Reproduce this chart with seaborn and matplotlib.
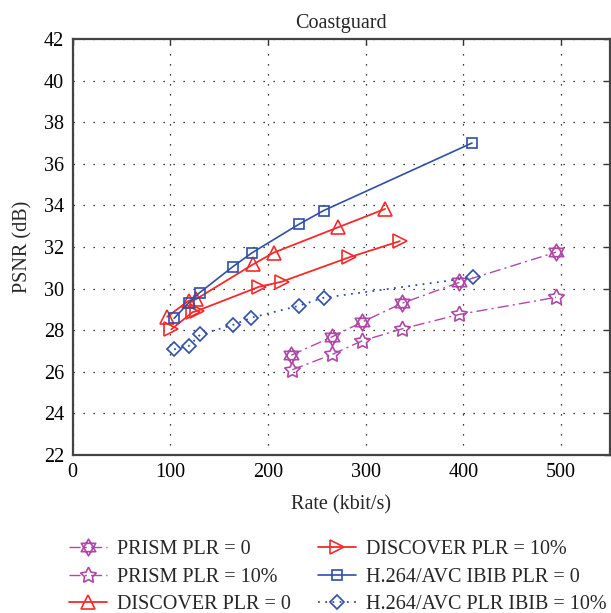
import numpy as np
import pandas as pd
import matplotlib
matplotlib.use("Agg")
import matplotlib.pyplot as plt
from matplotlib.path import Path
import seaborn as sns

# ---- data ----
prism0_x = [224, 266, 296, 337, 396, 495]
prism0_y = [26.8, 27.69, 28.38, 29.29, 30.3, 31.75]
prism10_x = [225, 266, 296, 337, 396, 495]
prism10_y = [26.1, 26.84, 27.48, 28.06, 28.76, 29.58]
disc0_x = [97, 119, 126, 185, 206, 272, 320]
disc0_y = [28.65, 29.42, 29.48, 31.17, 31.73, 32.95, 33.83]
disc10_x = [101, 123, 127, 191, 214, 283, 335]
disc10_y = [28.04, 28.87, 28.92, 30.09, 30.33, 31.5, 32.28]
h264_x = [104, 119, 130, 164, 184, 232, 257, 409]
h264_y = [28.57, 29.32, 29.8, 31.05, 31.73, 33.1, 33.75, 37.0]
h264_10_x = [104, 119, 131, 164, 183, 232, 257, 410]
h264_10_y = [27.08, 27.24, 27.8, 28.25, 28.6, 29.18, 29.56, 30.54]

labels = ["PRISM PLR = 0", "PRISM PLR = 10%", "DISCOVER PLR = 0",
          "DISCOVER PLR = 10%", "H.264/AVC IBIB PLR = 0", "H.264/AVC PLR IBIB = 10%"]
xticks = [0, 100, 200, 300, 400, 500]
yticks = list(range(22, 43, 2))

sns.set_theme(style="white")
plt.rcParams['font.family'] = ['Liberation Serif', 'DejaVu Serif']

# hexagram marker
t1 = [(0, 1), (np.cos(np.radians(210)), np.sin(np.radians(210))),
      (np.cos(np.radians(330)), np.sin(np.radians(330))), (0, 1)]
t2 = [(0, -1), (np.cos(np.radians(30)), np.sin(np.radians(30))),
      (np.cos(np.radians(150)), np.sin(np.radians(150))), (0, -1)]
hexagram = Path(t1 + t2, [Path.MOVETO, Path.LINETO, Path.LINETO, Path.CLOSEPOLY,
                          Path.MOVETO, Path.LINETO, Path.LINETO, Path.CLOSEPOLY])

magenta = "#b048a8"
red = "#f52a2a"
blue = "#2f4fa8"
FS = 14.5

fig = plt.figure(figsize=(6.11, 6.13), dpi=100)
ax = fig.add_axes([0.1187, 0.2577, 0.8793, 0.6787])

series = [
    (prism0_x, prism0_y, labels[0], magenta, (0, (8, 3, 1.5, 3)), hexagram, 12, 1.0),
    (prism10_x, prism10_y, labels[1], magenta, (0, (8, 3, 1.5, 3)), (5, 1, 0), 12, 1.0),
    (disc0_x, disc0_y, labels[2], red, "-", "^", 10, 1.3),
    (disc10_x, disc10_y, labels[3], red, "-", ">", 10, 1.3),
    (h264_x, h264_y, labels[4], blue, "-", "s", 7, 1.2),
    (h264_10_x, h264_10_y, labels[5], blue, (0, (1, 3)), "D", 7, 1.3),
]

for xs, ys, lab, col, ls, mk, ms, lw in series:
    df = pd.DataFrame({"x": xs, "y": ys})
    sns.lineplot(data=df, x="x", y="y", ax=ax, color=col, linestyle=ls, lw=lw,
                 marker=mk, markersize=ms, markerfacecolor="none",
                 markeredgecolor=col, markeredgewidth=1.2, label=lab,
                 sort=False, estimator=None)

ax.set_xlim(0, 550)
ax.set_ylim(22, 42)
ax.set_xticks(xticks)
ax.set_yticks(yticks)
ax.grid(True, color="black", linestyle=(0, (1, 7)), linewidth=0.9)
ax.tick_params(direction="in", length=4, width=1, colors="#333333",
               labelsize=FS, labelcolor="black", pad=6,
               top=True, right=True)
for s in ax.spines.values():
    s.set_color("#444444")
    s.set_linewidth(1.6)
ax.set_xlabel("Rate (kbit/s)", fontsize=FS, labelpad=9)
ax.set_ylabel("PSNR (dB)", fontsize=FS, labelpad=8)
ax.set_title("Coastguard", fontsize=FS, pad=8)

leg = ax.legend(loc="upper left", bbox_to_anchor=(-0.022, -0.185), ncol=2,
                frameon=False, fontsize=FS, handlelength=1.9,
                columnspacing=1.35, labelspacing=0.42, handletextpad=0.5,
                borderaxespad=0)

fig.savefig("out.png", dpi=100)
